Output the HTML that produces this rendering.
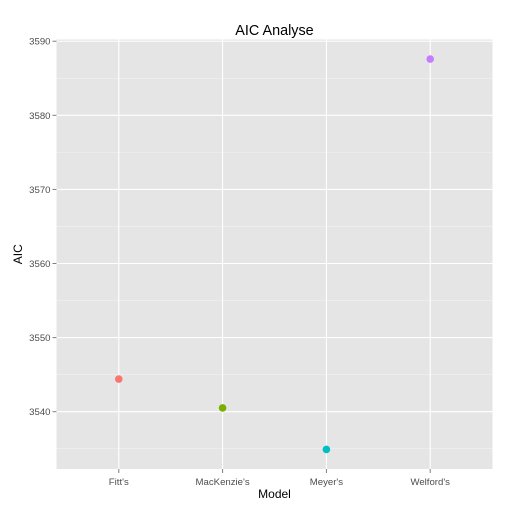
<!DOCTYPE html>
<html><head><meta charset="utf-8"><style>body{margin:0;background:#fff}svg{display:block;font-family:"Liberation Sans",sans-serif}</style></head>
<body>
<svg id="c" width="512" height="512"></svg>
<script>
const categories = ["Fitt's","MacKenzie's","Meyer's","Welford's"];
const aicValues = [3544.4, 3540.5, 3534.9, 3587.6];
const pointColors = ["#F8766D","#7CAE00","#00BFC4","#C77CFF"];
const yTicks = [3540, 3550, 3560, 3570, 3580, 3590];
const yMinor = [3535, 3545, 3555, 3565, 3575, 3585];

const NS = "http://www.w3.org/2000/svg";
const svg = document.getElementById('c');
const L = 56.5, R = 492.5, T = 39.5, B = 469;
const vmin = Math.min(...aicValues), vmax = Math.max(...aicValues);
const pad = (vmax - vmin) * 0.05;
const y0 = vmin - pad, y1 = vmax + pad;
const yS = v => B - (v - y0) / (y1 - y0) * (B - T);
const step = (R - L) / (categories.length - 1 + 1.2);
const xS = i => L + step * (0.6 + i);
function el(tag, attrs, parent) {
  const e = document.createElementNS(NS, tag);
  for (const k in attrs) e.setAttribute(k, attrs[k]);
  (parent || svg).appendChild(e);
  return e;
}
const panel = el('rect', {x:L, y:T, width:R-L, height:B-T, fill:'#E5E5E5'});


yMinor.forEach(v => {
  if (v < y0 || v > y1) return;
  const l = el('line', {x1:L, x2:R, y1:yS(v), y2:yS(v), stroke:'#F2F2F2', 'stroke-width':0.6});
  
  
});
yTicks.forEach(v => {
  const y = yS(v);
  const l = el('line', {x1:L, x2:R, y1:y, y2:y, stroke:'#fff', 'stroke-width':1.1});
  
  
  const tk = el('line', {x1:L-4, x2:L, y1:y, y2:y, stroke:'#7f7f7f'});
  
  
  const t = el('text', {x:L-6, y:y+3.5, 'text-anchor':'end', 'font-size':9.6, fill:'#4D4D4D'});
  t.textContent = v;
  
  
});
categories.forEach((c, i) => {
  const x = xS(i);
  const l = el('line', {x1:x, x2:x, y1:T, y2:B, stroke:'#fff', 'stroke-width':1.1});
  
  
  const tk = el('line', {x1:x, x2:x, y1:B, y2:B+4, stroke:'#7f7f7f'});
  
  
  const t = el('text', {x:x, y:B+16, 'text-anchor':'middle', 'font-size':9.6, fill:'#4D4D4D'});
  t.textContent = c;
  
  
});
aicValues.forEach((v, i) => {
  const p = el('circle', {cx:xS(i), cy:yS(v), r:3.8, fill:pointColors[i]});
  
  
});
const title = el('text', {x:(L+R)/2, y:35, 'text-anchor':'middle', 'font-size':14.4, fill:'#000'});
title.textContent = 'AIC Analyse';


const xt = el('text', {x:(L+R)/2, y:498, 'text-anchor':'middle', 'font-size':12, fill:'#000'});
xt.textContent = 'Model';


const yt = el('text', {x:0, y:0, 'text-anchor':'middle', 'font-size':12, fill:'#000', transform:'translate(22,' + ((T+B)/2) + ') rotate(-90)'});
yt.textContent = 'AIC';


</script>
</body></html>
